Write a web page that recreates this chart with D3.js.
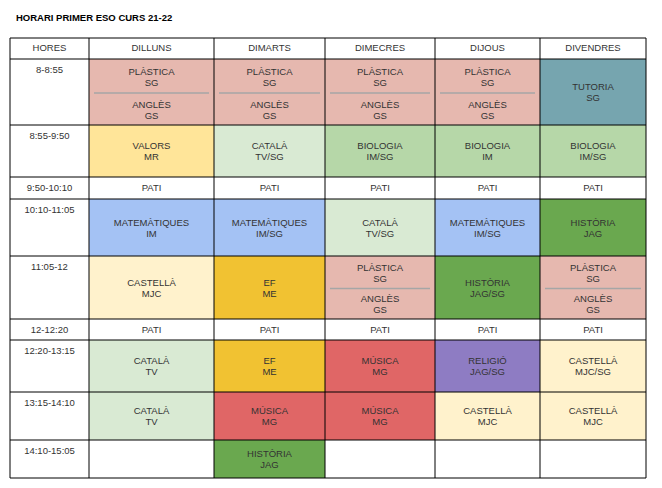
<!DOCTYPE html>
<html><head><meta charset="utf-8">
<script src="https://cdn.jsdelivr.net/npm/d3@7"></script>
<style>
body{margin:0;background:#fff;font-family:"Liberation Sans",Arial,sans-serif;}
</style></head><body>
<svg id="chart" width="662" height="488"></svg>
<script>
const TITLE = "HORARI PRIMER ESO CURS 21-22";
const DAYS = ["DILLUNS", "DIMARTS", "DIMECRES", "DIJOUS", "DIVENDRES"];
const HOURS = ["8-8:55", "8:55-9:50", "9:50-10:10", "10:10-11:05", "11:05-12",
  "12-12:20", "12:20-13:15", "13:15-14:10", "14:10-15:05"];

const COLORS = {
  pla: "#e6b8af", tut: "#76a5af", val: "#ffe599", cat: "#d9ead3", bio: "#b6d7a8",
  mat: "#a4c2f4", his: "#6aa84f", ef: "#f1c232", cas: "#fff2cc", mus: "#e06666",
  rel: "#8e7cc3", pati: "#ffffff"
};

const SPLIT = [["PLÀSTICA", "SG"], ["ANGLÈS", "GS"]];
// [subject, teacher, colour key] or "split" or null
const DILLUNS = ["split", ["VALORS", "MR", "val"], ["PATI", "", "pati"], ["MATEMÀTIQUES", "IM", "mat"],
  ["CASTELLÀ", "MJC", "cas"], ["PATI", "", "pati"], ["CATALÀ", "TV", "cat"], ["CATALÀ", "TV", "cat"], null];
const DIMARTS = ["split", ["CATALÀ", "TV/SG", "cat"], ["PATI", "", "pati"], ["MATEMÀTIQUES", "IM/SG", "mat"],
  ["EF", "ME", "ef"], ["PATI", "", "pati"], ["EF", "ME", "ef"], ["MÚSICA", "MG", "mus"], ["HISTÒRIA", "JAG", "his"]];
const DIMECRES = ["split", ["BIOLOGIA", "IM/SG", "bio"], ["PATI", "", "pati"], ["CATALÀ", "TV/SG", "cat"],
  "split", ["PATI", "", "pati"], ["MÚSICA", "MG", "mus"], ["MÚSICA", "MG", "mus"], null];
const DIJOUS = ["split", ["BIOLOGIA", "IM", "bio"], ["PATI", "", "pati"], ["MATEMÀTIQUES", "IM/SG", "mat"],
  ["HISTÒRIA", "JAG/SG", "his"], ["PATI", "", "pati"], ["RELIGIÓ", "JAG/SG", "rel"], ["CASTELLÀ", "MJC", "cas"], null];
const DIVENDRES = [["TUTORIA", "SG", "tut"], ["BIOLOGIA", "IM/SG", "bio"], ["PATI", "", "pati"], ["HISTÒRIA", "JAG", "his"],
  "split", ["PATI", "", "pati"], ["CASTELLÀ", "MJC/SG", "cas"], ["CASTELLÀ", "MJC", "cas"], null];
const SCHEDULE = [DILLUNS, DIMARTS, DIMECRES, DIJOUS, DIVENDRES];

// layout
const colEdges = [10, 89, 214, 325, 435, 540, 646];
const rowEdges = [38, 59, 125, 177, 199, 256, 319, 340, 392, 440, 478];

const svg = d3.select("#chart");
svg.append("text").attr("x", 16).attr("y", 21).attr("font-size", 9.5)
  .attr("font-weight", "bold").attr("fill", "#000").text(TITLE);

const g = svg.append("g");
const txt = "#333";

function label(x, y, lines) {
  const t = g.append("text").attr("x", x).attr("text-anchor", "middle")
    .attr("font-size", 9.5).attr("fill", txt);
  const y0 = y - (lines.length - 1) * 5.5 + 3.5;
  lines.filter(l => l !== "").forEach((l, i) => t.append("tspan").attr("x", x).attr("y", y0 + i * 11).text(l));
}

// header
DAYS.forEach((d, i) => {
  label((colEdges[i + 1] + colEdges[i + 2]) / 2, (rowEdges[0] + rowEdges[1]) / 2 - 1, [d]);
});
label((colEdges[0] + colEdges[1]) / 2, (rowEdges[0] + rowEdges[1]) / 2 - 1, ["HORES"]);

HOURS.forEach((h, r) => {
  const y0 = rowEdges[r + 1];
  g.append("text").attr("x", (colEdges[0] + colEdges[1]) / 2).attr("y", y0 + 14)
    .attr("text-anchor", "middle").attr("font-size", 9.5).attr("fill", txt).text(h);
});

SCHEDULE.forEach((day, c) => {
  const x0 = colEdges[c + 1], x1 = colEdges[c + 2], cx = (x0 + x1) / 2;
  day.forEach((cell, r) => {
    const y0 = rowEdges[r + 1], y1 = rowEdges[r + 2], cy = (y0 + y1) / 2;
    if (!cell) return;
    if (cell === "split") {
      g.append("rect").attr("x", x0).attr("y", y0).attr("width", x1 - x0).attr("height", y1 - y0).attr("fill", COLORS.pla);
      g.append("line").attr("x1", x0 + 5).attr("x2", x1 - 5).attr("y1", cy + 1).attr("y2", cy + 1)
        .attr("stroke", "#a6a6a6").attr("stroke-width", 1.5);
      label(cx, y0 + (cy - y0) / 2 + 1, SPLIT[0]);
      label(cx, cy + (y1 - cy) / 2 + 1, SPLIT[1]);
    } else {
      g.append("rect").attr("x", x0).attr("y", y0).attr("width", x1 - x0).attr("height", y1 - y0).attr("fill", COLORS[cell[2]]);
      if (cell[2] === "pati") {
        g.append("text").attr("x", cx).attr("y", y0 + 14).attr("text-anchor", "middle")
          .attr("font-size", 9.5).attr("fill", txt).text(cell[0]);
      } else label(cx, cy, [cell[0], cell[1]]);
    }
  });
});

// grid
colEdges.forEach(x => g.append("line").attr("x1", x).attr("x2", x).attr("y1", rowEdges[0]).attr("y2", rowEdges[rowEdges.length - 1]).attr("stroke", "#000").attr("stroke-width", 1));
rowEdges.forEach(y => g.append("line").attr("x1", colEdges[0]).attr("x2", colEdges[colEdges.length - 1]).attr("y1", y).attr("y2", y).attr("stroke", "#000").attr("stroke-width", 1));
</script></body></html>
